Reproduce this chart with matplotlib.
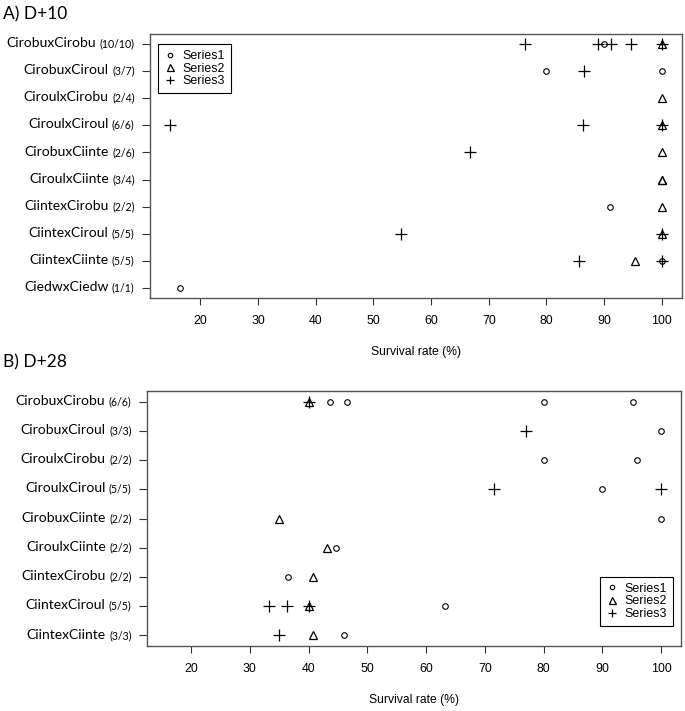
import matplotlib
matplotlib.use("Agg")
import matplotlib.pyplot as plt

# ---- data: panel A (D+10) ----
cats_a = ["CirobuxCirobu", "CirobuxCiroul", "CiroulxCirobu", "CiroulxCiroul", "CirobuxCiinte",
          "CiroulxCiinte", "CiintexCirobu", "CiintexCiroul", "CiintexCiinte", "CiedwxCiedw"]
counts_a = ["(10/10)", "(3/7)", "(2/4)", "(6/6)", "(2/6)", "(3/4)", "(2/2)", "(5/5)", "(5/5)", "(1/1)"]
s1_a_row = [0, 1, 1, 6, 8, 9]
s1_a_val = [90.0, 80.0, 100, 91.1, 100, 16.5]
s2_a_row = [0, 2, 3, 4, 5, 5, 6, 7, 8]
s2_a_val = [100, 100, 100, 100, 100, 100, 100, 100, 95.3]
s3_a_row = [0, 0, 0, 0, 0, 1, 3, 3, 3, 4, 7, 7, 8, 8]
s3_a_val = [76.3, 88.9, 91.2, 94.6, 100, 86.6, 14.8, 86.4, 100, 66.7, 54.8, 100, 85.6, 100]

# ---- data: panel B (D+28) ----
cats_b = ["CirobuxCirobu", "CirobuxCiroul", "CiroulxCirobu", "CiroulxCiroul", "CirobuxCiinte",
          "CiroulxCiinte", "CiintexCirobu", "CiintexCiroul", "CiintexCiinte"]
counts_b = ["(6/6)", "(3/3)", "(2/2)", "(5/5)", "(2/2)", "(2/2)", "(2/2)", "(5/5)", "(3/3)"]
s1_b_row = [0, 0, 0, 0, 1, 2, 2, 3, 4, 5, 6, 7, 8]
s1_b_val = [43.7, 46.6, 80.1, 95.3, 100, 80.1, 95.9, 90.0, 100, 44.7, 36.5, 63.3, 46.0]
s2_b_row = [0, 4, 5, 6, 7, 8]
s2_b_val = [40.1, 35.0, 43.1, 40.7, 40.0, 40.7]
s3_b_row = [0, 1, 3, 3, 7, 7, 7, 8]
s3_b_val = [40.1, 77.0, 71.5, 100, 33.2, 36.4, 40.0, 35.0]

xticks = [20, 30, 40, 50, 60, 70, 80, 90, 100]
series_names = ["Series1", "Series2", "Series3"]

NUM_FONT = "Liberation Sans"
LAB_FONT = "Lato"
FRAME = "#555555"


def panel(ax, cats, counts, s1, s2, s3, xlim, legend_loc, legend_anchor):
    n = len(cats)
    ypos = lambda rows: [n - r for r in rows]
    ax.plot(s1[1], ypos(s1[0]), linestyle="none", marker="o", ms=4.0, mfc="none",
            mec="black", mew=0.8, label=series_names[0])
    ax.plot(s2[1], ypos(s2[0]), linestyle="none", marker="^", ms=6.3, mfc="none",
            mec="black", mew=0.9, label=series_names[1])
    ax.plot(s3[1], ypos(s3[0]), linestyle="none", marker="+", ms=8, mec="black",
            mew=0.9, label=series_names[2])
    ax.set_xlim(*xlim)
    ax.set_ylim(0.64, n + 0.36)
    ax.set_xticks(xticks)
    ax.set_xticklabels([str(t) for t in xticks], fontfamily=NUM_FONT, fontsize=8.9)
    ax.set_yticks(range(1, n + 1))
    ax.set_yticklabels([])
    ax.tick_params(axis="x", length=5, width=0.8, pad=7, color="#333333")
    ax.tick_params(axis="y", length=6, width=0.8, color="#333333")
    for sp in ax.spines.values():
        sp.set_color(FRAME)
        sp.set_linewidth(1.0)
    ax.set_xlabel("Survival rate (%)", fontfamily=NUM_FONT, fontsize=8.7, labelpad=14)
    # category labels: name in normal size, count in smaller size
    for i in range(n):
        y = n - i
        ct = ax.annotate(counts[i], xy=(0, y), xycoords=("axes fraction", "data"),
                         xytext=(-11, 0), textcoords="offset points", ha="right",
                         va="center", fontfamily=LAB_FONT, fontsize=7.6)
        ax.annotate(cats[i], xy=(0, 0.5), xycoords=ct, xytext=(-2.5, 0.6),
                    textcoords="offset points", ha="right", va="center",
                    fontfamily=LAB_FONT, fontsize=10.0)
    leg = ax.legend(loc=legend_loc, bbox_to_anchor=legend_anchor, frameon=True,
                    fancybox=False, edgecolor="black", framealpha=1,
                    prop={"family": NUM_FONT, "size": 8.9}, labelspacing=0.05,
                    handlelength=1.0, handletextpad=0.5, borderpad=0.5,
                    borderaxespad=0.0, markerscale=0.8)
    leg.get_frame().set_linewidth(0.8)


fig = plt.figure(figsize=(6.85, 7.11), dpi=100)
ax_a = fig.add_axes([150 / 685, 1 - 298 / 711, 532 / 685, 264 / 711])
ax_b = fig.add_axes([147 / 685, 1 - 646 / 711, 534 / 685, 255 / 711])

panel(ax_a, cats_a, counts_a, (s1_a_row, s1_a_val), (s2_a_row, s2_a_val),
      (s3_a_row, s3_a_val), (11.3, 103.5), "upper left", (0.015, 0.963))
panel(ax_b, cats_b, counts_b, (s1_b_row, s1_b_val), (s2_b_row, s2_b_val),
      (s3_b_row, s3_b_val), (12.5, 103.4), "lower right", (0.985, 0.078))

fig.text(3 / 685, 1 - 14 / 711, "A) D+10", fontfamily=LAB_FONT, fontsize=12.5,
         ha="left", va="center")
fig.text(3 / 685, 1 - 362 / 711, "B) D+28", fontfamily=LAB_FONT, fontsize=12.5,
         ha="left", va="center")

fig.savefig("out.png", dpi=100, facecolor="white")
